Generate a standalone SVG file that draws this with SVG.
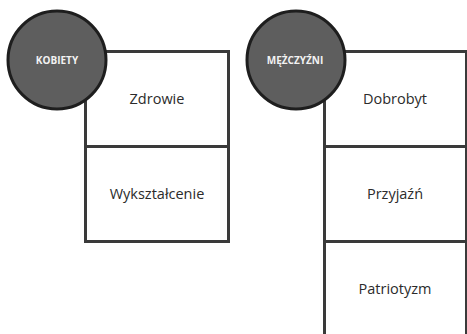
<svg xmlns="http://www.w3.org/2000/svg" width="467" height="334" viewBox="0 0 467 334">
<style>
.box{fill:#fff;stroke:#3a3a3a;stroke-width:3}
.circ{fill:#5e5e5e;stroke:#1e1e1e;stroke-width:3}
.lbl{font-family:"Open Sans","Liberation Sans",Arial,sans-serif;font-size:14.5px;fill:#2b2b2b;text-anchor:middle}
.clbl{font-family:"Open Sans","Liberation Sans",Arial,sans-serif;font-size:10px;font-weight:bold;fill:#f2f2f2;text-anchor:middle}
</style>
<rect width="467" height="334" fill="#fff"/>
<g id="connectors"></g>
<g id="zdrowie"><rect class="box" x="85.5" y="51.5" width="143" height="95"/><text class="lbl" x="157" y="104">Zdrowie</text></g>
<g id="wyksztalcenie"><rect class="box" x="85.5" y="146.5" width="143" height="95"/><text class="lbl" x="157" y="199">Wykształcenie</text></g>
<g id="dobrobyt"><rect class="box" x="324.5" y="51.5" width="142" height="95"/><text class="lbl" x="395" y="104">Dobrobyt</text></g>
<g id="przyjazn"><rect class="box" x="324.5" y="146.5" width="142" height="95"/><text class="lbl" x="395" y="199">Przyjaźń</text></g>
<g id="patriotyzm"><rect class="box" x="324.5" y="241.5" width="142" height="100"/><text class="lbl" x="395" y="294">Patriotyzm</text></g>
<g id="kobiety"><circle class="circ" cx="57" cy="60" r="49"/><text class="clbl" x="57" y="63.5">KOBIETY</text></g>
<g id="mezczyzni"><circle class="circ" cx="296" cy="60" r="49"/><text class="clbl" x="295" y="63.5">MĘŻCZYŹNI</text></g>
</svg>
